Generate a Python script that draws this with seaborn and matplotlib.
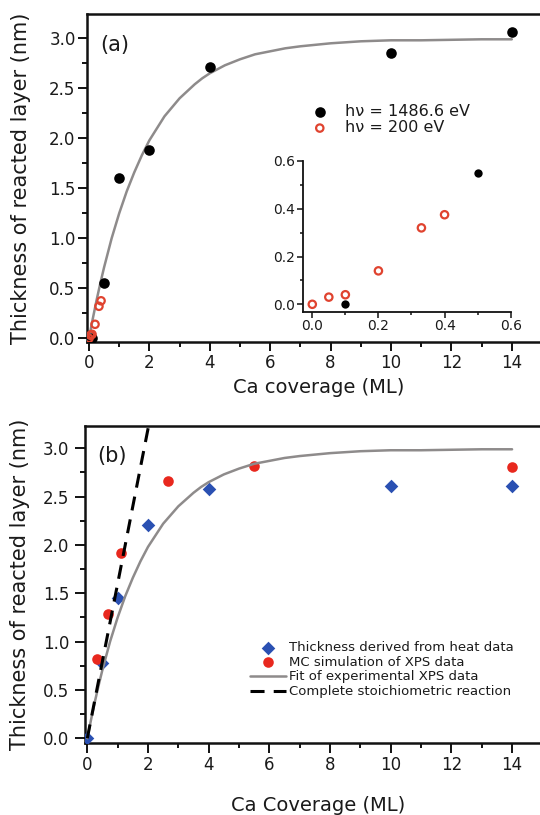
import matplotlib
matplotlib.use("Agg")
import matplotlib.pyplot as plt
import seaborn as sns
from matplotlib.ticker import MultipleLocator

# ---------------- data ----------------
# (a) reacted-layer thickness for two photon energies
cov_1486 = [0.1, 0.5, 1.0, 2.0, 4.0, 10.0, 14.0]
thk_1486 = [0.0, 0.55, 1.60, 1.88, 2.71, 2.85, 3.06]
cov_200 = [0.0, 0.05, 0.10, 0.20, 0.33, 0.40]
thk_200 = [0.0, 0.03, 0.04, 0.14, 0.32, 0.375]

fit_cov = [0, 0.125, 0.25, 0.375, 0.5, 0.75, 1.0, 1.25, 1.5, 1.75, 2.0, 2.25,
           2.5, 2.75, 3.0, 3.25, 3.5, 3.75, 4.0, 4.25, 4.5, 4.75, 5.0, 5.5,
           6.0, 6.5, 7.0, 8.0, 9.0, 10.0, 11.0, 12.0, 13.0, 14.0]
fit_thk = [0, 0.195, 0.38, 0.55, 0.71, 1.00, 1.25, 1.47, 1.66, 1.83, 1.98, 2.10,
           2.22, 2.31, 2.40, 2.47, 2.54, 2.60, 2.65, 2.69, 2.73, 2.76, 2.79, 2.84,
           2.87, 2.90, 2.92, 2.95, 2.97, 2.98, 2.98, 2.985, 2.99, 2.99]

# (b) heat-derived thickness, MC simulation, stoichiometric limit
cov_heat = [0.0, 0.5, 1.0, 2.0, 4.0, 10.0, 14.0]
thk_heat = [0.0, 0.78, 1.45, 2.21, 2.575, 2.61, 2.61]
cov_mc = [0.33, 0.67, 1.1, 2.65, 5.5, 14.0]
thk_mc = [0.82, 1.29, 1.92, 2.66, 2.815, 2.81]
cov_stoich = [0.0, 2.2]
thk_stoich = [0.0, 3.52]

xticks_main = [0, 2, 4, 6, 8, 10, 12, 14]
yticks_main = [0.0, 0.5, 1.0, 1.5, 2.0, 2.5, 3.0]
ticks_inset = [0.0, 0.2, 0.4, 0.6]

RED_OPEN = "#e0432f"
RED = "#e8281e"
BLUE = "#2a50b2"
GRAY = "#8e8b8b"
INK = "#1a1a1a"

sns.set_theme(style="ticks")
plt.rcParams["font.family"] = ["DejaVu Sans"]
plt.rcParams["axes.linewidth"] = 1.6
plt.rcParams["text.color"] = INK
plt.rcParams["axes.labelcolor"] = INK

W, H = 540, 815
fig = plt.figure(figsize=(W / 100, H / 100), dpi=100)
fig.patch.set_facecolor("white")


def rect(left, top, right, bottom):
    return [left / W, 1 - bottom / H, (right - left) / W, (bottom - top) / H]


def style_main(ax, ylim):
    ax.set_xlim(-0.076, 15.3)
    ax.set_ylim(*ylim)
    ax.set_xticks(xticks_main)
    ax.set_xticklabels([str(v) for v in xticks_main])
    ax.set_yticks(yticks_main)
    ax.set_yticklabels([f"{v:.1f}" for v in yticks_main])
    ax.xaxis.set_minor_locator(MultipleLocator(1))
    ax.yaxis.set_minor_locator(MultipleLocator(0.25))
    ax.tick_params(which="both", direction="out", top=False, right=False,
                   width=1.4, colors="#111111", labelcolor=INK)
    ax.tick_params(which="major", length=6.5, labelsize=12)
    ax.tick_params(which="minor", length=3.5)
    for s in ax.spines.values():
        s.set_color("#111111")
        s.set_linewidth(1.8)
    ax.set_facecolor("white")


# ---------------- panel (a) ----------------
ax_a = fig.add_axes(rect(86.7, 14, 86.7 + 30.2 * 15.376, 341.7))
sns.lineplot(x=fit_cov, y=fit_thk, ax=ax_a, color=GRAY, linewidth=1.8,
             zorder=3, legend=False)
sns.scatterplot(x=cov_1486, y=thk_1486, ax=ax_a, color="black", s=58,
                linewidth=0, zorder=4, label="h\u03bd = 1486.6 eV")
sns.scatterplot(x=cov_200, y=thk_200, ax=ax_a, marker="o", s=28,
                facecolor="none", edgecolor=RED_OPEN, linewidth=1.6,
                zorder=5, label="h\u03bd = 200 eV")
style_main(ax_a, (-0.034, 3.243))
ax_a.tick_params(axis="y", pad=1.5)
ax_a.tick_params(axis="x", pad=2)
ax_a.set_xlabel("Ca coverage (ML)", fontsize=14, labelpad=5)
ax_a.set_ylabel("Thickness of reacted layer (nm)", fontsize=15, labelpad=4)
fig.text(100 / W, 1 - 45 / H, "(a)", fontsize=15, va="center", ha="left")
leg_a = ax_a.legend(loc="upper left", bbox_to_anchor=(311 / W, 1 - 104 / H),
                    bbox_transform=fig.transFigure, frameon=False,
                    fontsize=11.5, borderpad=0, borderaxespad=0,
                    handlelength=1.1, handletextpad=1.05, labelspacing=0.08)

# inset: low-coverage region
ax_in = fig.add_axes(rect(302.7, 161, 510.7, 311.7))
sns.scatterplot(x=cov_1486, y=thk_1486, ax=ax_in, color="black", s=36,
                linewidth=0, zorder=4, legend=False)
sns.scatterplot(x=cov_200, y=thk_200, ax=ax_in, marker="o", s=28,
                facecolor="none", edgecolor=RED_OPEN, linewidth=1.6,
                zorder=5, legend=False)
ax_in.set_xlim(-0.029, 0.6)
ax_in.set_ylim(-0.031, 0.6)
ax_in.set_xticks(ticks_inset)
ax_in.set_xticklabels([f"{v:.1f}" for v in ticks_inset])
ax_in.set_yticks(ticks_inset)
ax_in.set_yticklabels([f"{v:.1f}" for v in ticks_inset])
ax_in.xaxis.set_minor_locator(MultipleLocator(0.1))
ax_in.yaxis.set_minor_locator(MultipleLocator(0.1))
ax_in.tick_params(which="both", direction="out", width=1.1, colors="#111111",
                  labelcolor=INK)
ax_in.tick_params(which="major", length=4, labelsize=10, pad=1.5)
ax_in.tick_params(which="minor", length=2.5)
for side in ("top", "right"):
    ax_in.spines[side].set_visible(False)
for side in ("left", "bottom"):
    ax_in.spines[side].set_linewidth(1.3)
    ax_in.spines[side].set_color("#111111")
ax_in.set_xlabel("")
ax_in.set_ylabel("")
ax_in.patch.set_alpha(0)

# ---------------- panel (b) ----------------
ax_b = fig.add_axes(rect(85, 425.7, 85 + 30.34 * 15.376, 743.3))
sns.scatterplot(x=cov_heat, y=thk_heat, ax=ax_b, marker="D", color=BLUE,
                s=48, linewidth=0, zorder=4,
                label="Thickness derived from heat data")
sns.scatterplot(x=cov_mc, y=thk_mc, ax=ax_b, marker="o", color=RED, s=58,
                linewidth=0, zorder=4, label="MC simulation of XPS data")
sns.lineplot(x=fit_cov, y=fit_thk, ax=ax_b, color=GRAY, linewidth=1.8,
             zorder=5, label="Fit of experimental XPS data")
sns.lineplot(x=cov_stoich, y=thk_stoich, ax=ax_b, color="black",
             linewidth=2.2, linestyle=(0, (4.6, 3.0)), zorder=6,
             label="Complete stoichiometric reaction")
style_main(ax_b, (-0.052, 3.234))
ax_b.tick_params(which="major", length=7.5)
ax_b.tick_params(axis="y", pad=4)
ax_b.tick_params(axis="x", pad=1.5)
ax_b.set_xlabel("Ca Coverage (ML)", fontsize=14, labelpad=16)
ax_b.set_ylabel("Thickness of reacted layer (nm)", fontsize=15, labelpad=4)
fig.text(97 / W, 1 - 456 / H, "(b)", fontsize=15, va="center", ha="left")
leg_b = ax_b.legend(loc="upper left", bbox_to_anchor=(250 / W, 1 - 641 / H),
                    bbox_transform=fig.transFigure, frameon=False,
                    fontsize=9.5, borderpad=0, borderaxespad=0,
                    handlelength=2.75, handletextpad=0.2, labelspacing=0.13)

# same label column for both panels
ax_a.yaxis.set_label_coords(-0.12, 0.5)
ax_b.yaxis.set_label_coords(-0.118, 0.5)

fig.savefig("out.png", dpi=100, facecolor="white")
